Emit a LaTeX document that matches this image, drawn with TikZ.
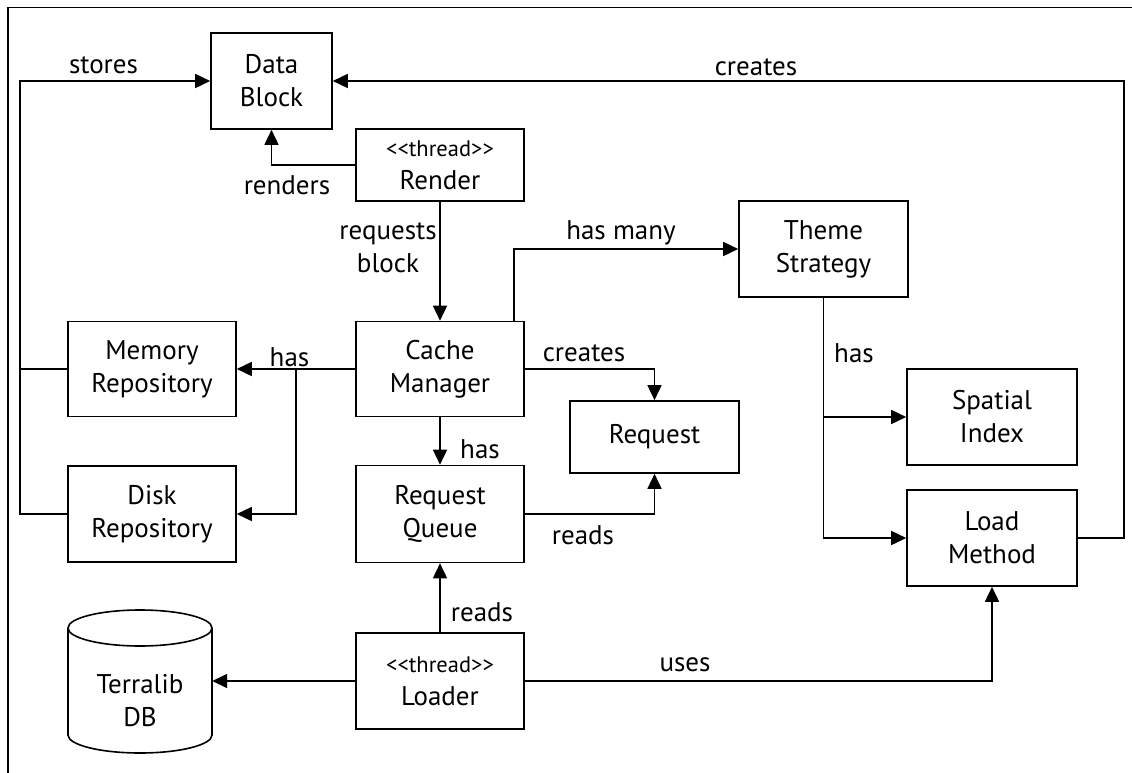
\documentclass[tikz,border=0pt]{standalone}
\usepackage{fontspec}
\setmainfont{PT Sans}
\usetikzlibrary{arrows.meta}
\begin{document}
\begin{tikzpicture}[x=1pt,y=1pt,
  box/.style={draw, line width=1.6pt, align=center, inner sep=0pt, minimum width=168pt, minimum height=96pt, font=\fontsize{27}{33}\selectfont},
  arr/.style={line width=1.6pt, -{Triangle[length=15pt,width=14pt]}},
  ln/.style={line width=1.6pt},
  lbl/.style={font=\fontsize{27}{33}\selectfont, inner sep=0pt, align=center}]
\useasboundingbox (0,0) rectangle (1132,-773);
% frame
\draw[ln] (8,-773) -- (8,-7.5) -- (1132,-7.5);
% nodes
\node[box, minimum width=121pt] (data) at (271.5,-81) {Data\\Block};
\node[box, minimum height=72pt] (render) at (440,-165) {{\fontsize{22.5}{26}\selectfont <{}<thread>{}>}\\Render};
\node[box, minimum height=95pt] (cache) at (440,-369) {Cache\\Manager};
\node[box, minimum height=95pt] (memory) at (152,-369) {Memory\\Repository};
\node[box] (disk) at (152,-514) {Disk\\Repository};
\node[box, minimum width=169pt, minimum height=72pt] (request) at (654.5,-437) {Request};
\node[box, minimum height=97pt] (rq) at (440,-514) {Request\\Queue};
\node[box, minimum width=169pt] (theme) at (823.5,-249) {Theme\\Strategy};
\node[box, minimum width=170pt] (spatial) at (992,-417) {Spatial\\Index};
\node[box, minimum width=170pt] (load) at (992,-538) {Load\\Method};
\node[box] (loader) at (440,-681) {{\fontsize{22.5}{26}\selectfont <{}<thread>{}>}\\Loader};
% cylinder
\draw[ln] (68,-628) -- (68,-735) arc[start angle=180, end angle=360, x radius=72pt, y radius=18pt] -- (212,-628);
\draw[ln] (140,-628) ellipse[x radius=72pt, y radius=18pt];
\node[minimum width=144pt, minimum height=142pt, inner sep=0pt] (db) at (140,-681) {};
\node[lbl] (dbtext) at (140,-701) {Terralib\\DB};
% helper coordinates
\coordinate (sx) at (20,-81);
\coordinate (hb) at (296,-369);
\coordinate (rc) at (1124,-81);
% connectors
\draw[ln] (memory.west) -- (memory.west -| sx);
\draw[arr] (disk.west) -- (disk.west -| sx) |- (data.west);
\draw[arr] (render.west) -| (data.south);
\draw[arr] (render.south) -- (cache.north);
\draw[arr] ([xshift=74pt]cache.north) |- (theme.west);
\draw[arr] (cache.west) -- (memory.east);
\draw[arr] (hb) |- (disk.east);
\draw[arr] (cache.east) -| (request.north);
\draw[arr] (cache.south) -- (rq.north);
\draw[arr] (rq.east) -| (request.south);
\draw[arr] (theme.south) |- (load.west);
\draw[arr] (theme.south |- spatial.west) -- (spatial.west);
\draw[arr] (load.east) -| (rc) -- (data.east);
\draw[arr] (loader.north) -- (rq.south);
\draw[arr] (loader.west) -- (db.east);
\draw[arr] (loader.east) -| (load.south);
% labels
\node[lbl] (l1) at (103.5,-65) {stores};
\node[lbl] (l2) at (756,-67) {creates};
\node[lbl] (l3) at (287,-185) {renders};
\node[lbl] (l4) at (388,-248) {requests\\block};
\node[lbl] (l5) at (621,-233) {has many};
\node[lbl] (l6) at (289.5,-357) {has};
\node[lbl] (l7) at (584,-353) {creates};
\node[lbl] (l8) at (480,-449) {has};
\node[lbl] (l9) at (583,-535) {reads};
\node[lbl] (l10) at (854,-353) {has};
\node[lbl] (l11) at (482,-612) {reads};
\node[lbl] (l12) at (685,-665) {uses};
\end{tikzpicture}
\end{document}
